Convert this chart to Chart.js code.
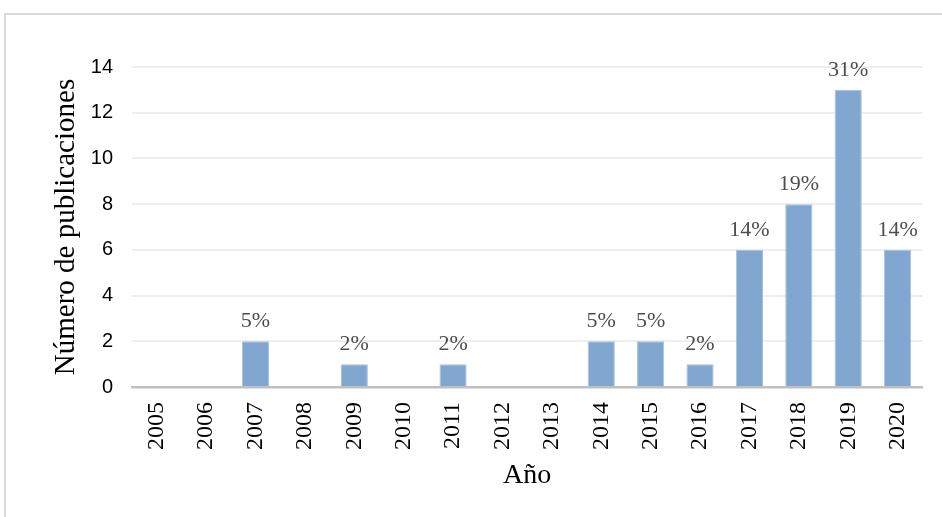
<!DOCTYPE html>
<html>
<head>
<meta charset="utf-8">
<script src="https://cdn.jsdelivr.net/npm/chart.js@4"></script>
<style>
  html, body { margin: 0; padding: 0; background: #fff; }
  #frame { position: absolute; left: 4px; top: 13px; width: 960px; height: 540px; border: 2px solid #d9d9d9; box-sizing: border-box; }
  #wrap { position: absolute; left: 0; top: 0; width: 942px; height: 517px; }
</style>
</head>
<body>
<div id="frame"></div>
<div id="wrap"><canvas id="c" width="942" height="517"></canvas></div>
<script>
const years = ['2005','2006','2007','2008','2009','2010','2011','2012','2013','2014','2015','2016','2017','2018','2019','2020'];
const publicaciones = [0, 0, 2, 0, 1, 0, 1, 0, 0, 2, 2, 1, 6, 8, 13, 6];
const porcentajes = ['', '', '5%', '', '2%', '', '2%', '', '', '5%', '5%', '2%', '14%', '19%', '31%', '14%'];
const yTicks = [0, 2, 4, 6, 8, 10, 12, 14];

const labelPlugin = {
  id: 'pctLabels',
  afterDatasetsDraw(chart) {
    const ctx = chart.ctx;
    const meta = chart.getDatasetMeta(0);
    ctx.save();
    ctx.font = '22px "Liberation Serif", serif';
    ctx.fillStyle = '#4d4d4d';
    ctx.textAlign = 'center';
    ctx.textBaseline = 'alphabetic';
    meta.data.forEach((bar, i) => {
      const t = porcentajes[i];
      if (!t) return;
      ctx.fillText(t, bar.x, bar.y - 14);
    });
    ctx.restore();
  }
};

new Chart(document.getElementById('c'), {
  type: 'bar',
  data: {
    labels: years,
    datasets: [{
      data: publicaciones,
      backgroundColor: '#81a6d0',
      borderColor: '#a6c0de',
      borderWidth: 1,
      barPercentage: 0.55,
      categoryPercentage: 1.0
    }]
  },
  options: {
    responsive: false,
    animation: false,
    devicePixelRatio: 1,
    layout: { padding: { left: 49, right: 19, top: 67, bottom: 25 } },
    plugins: { legend: { display: false }, tooltip: { enabled: false } },
    scales: {
      x: {
        grid: { display: false, drawTicks: false },
        border: { color: '#bfbfbf', width: 2.5 },
        ticks: {
          minRotation: 90, maxRotation: 90, padding: 15,
          color: '#000',
          font: { family: '"Liberation Serif", serif', size: 24 }
        },
        title: {
          display: true, text: 'Año', color: '#000', padding: 0,
          font: { family: '"Liberation Serif", serif', size: 28 }
        },
        afterFit(s) { s.height = 105; }
      },
      y: {
        min: 0, max: 14,
        afterBuildTicks(s) { s.ticks = yTicks.map(v => ({ value: v })); },
        grid: { color: '#eeeeee', lineWidth: 2, drawTicks: false },
        border: { display: false },
        ticks: {
          padding: 19, color: '#000',
          font: { family: '"Liberation Sans", Arial, sans-serif', size: 20 }
        },
        title: {
          display: true, text: 'Número de publicaciones', color: '#000', padding: 0,
          font: { family: '"Liberation Serif", serif', size: 29 }
        },
        afterFit(s) { s.width = 83; }
      }
    }
  },
  plugins: [labelPlugin]
});
</script>
</body>
</html>
